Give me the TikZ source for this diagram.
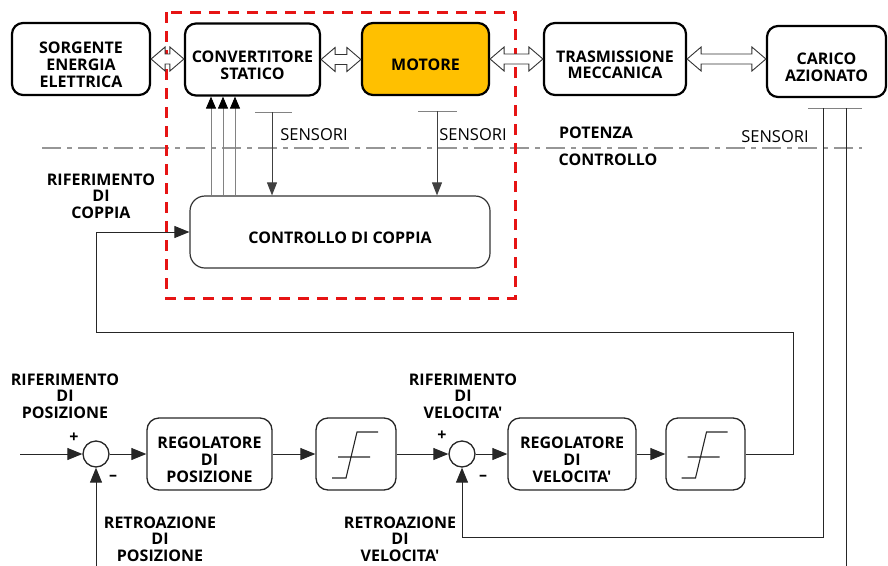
\documentclass[tikz,border=0pt]{standalone}
\usepackage{fontspec}
\newfontfamily\lblfont{Open Sans}
\usetikzlibrary{arrows.meta}
\definecolor{motorfill}{RGB}{255,192,0}
\definecolor{redbox}{RGB}{230,20,20}
\definecolor{dashgray}{RGB}{150,150,150}
\definecolor{linegray}{RGB}{130,130,130}
\tikzset{
  lbl/.style={font=\lblfont\bfseries\fontsize{16}{16.7}\selectfont, align=center, inner sep=0pt},
  lblreg/.style={font=\lblfont\fontsize{16.5}{16.7}\selectfont, align=center, inner sep=0pt},
  one/.style={text height=23pt},
  two/.style={text height=39.7pt},
  three/.style={text height=56.4pt},
  topbox/.style={lbl, draw=black, line width=2.2pt, rounded corners=11pt, minimum height=72pt},
  ctrlbox/.style={lbl, draw=black!80, line width=1.2pt, rounded corners=15pt},
  botbox/.style={lbl, draw=black!85, line width=1.3pt, rounded corners=12pt, minimum height=72pt},
  sumnode/.style={circle, draw=black!85, line width=1.3pt, minimum size=26pt, inner sep=0pt},
  sig/.style={line width=1pt, draw=black!85, -{Triangle[length=15pt,width=12pt]}},
  sigplain/.style={line width=1pt, draw=black!85},
  upar/.style={line width=0.9pt, draw=linegray, -{Triangle[length=12pt,width=10pt,fill=black,color=black]}},
  sensline/.style={line width=0.9pt, draw=black!75},
  sensbar/.style={line width=1pt, draw=linegray},
  hollow/.style={line width=0.9pt, draw=black!80, fill=white},
}
\newcommand\hollowarrow[2]{%
  \draw[hollow] let \p1=(#1.east), \p2=(#2.west) in
    (\x1,\y1) -- (\x1+14pt,\y1+12pt) -- (\x1+14pt,\y1+5pt) -- (\x2-14pt,\y1+5pt) -- (\x2-14pt,\y1+12pt) -- (\x2,\y1)
    -- (\x2-14pt,\y1-12pt) -- (\x2-14pt,\y1-5pt) -- (\x1+14pt,\y1-5pt) -- (\x1+14pt,\y1-12pt) -- cycle;}
\newcommand\satsym[1]{%
  \draw[line width=1.1pt, black!85, shift={(#1.center)}]
    (-24,24) -- (-10,24) -- (1,-22) -- (22,-22) (-18,3) -- (14,3);}
\usetikzlibrary{calc}
\begin{document}
\begin{tikzpicture}[x=1pt,y=-1pt]
\useasboundingbox (0,0) rectangle (888,565);

% top row
\node[topbox, three, minimum width=138pt] (src) at (81,59) {SORGENTE\\ENERGIA\\ELETTRICA};
\node[topbox, two, minimum width=135pt] (conv) at (252.5,59.5) {CONVERTITORE\\STATICO};
\node[topbox, one, minimum width=127pt, fill=motorfill] (mot) at (425.5,59) {MOTORE};
\node[topbox, two, minimum width=142pt] (tra) at (615,59) {TRASMISSIONE\\MECCANICA};
\node[topbox, two, minimum width=119pt, minimum height=71pt] (car) at (826.5,61.5) {CARICO\\AZIONATO};

% dash-dot separation
\draw[dashgray, line width=2.4pt, dash pattern=on 19pt off 6pt on 5pt off 6pt] (42,148) -- (862,148);

% red dashed frame
\draw[redbox, line width=3pt, dash pattern=on 11pt off 8pt] (166,12) rectangle (515,298);

\hollowarrow{src}{conv}
\hollowarrow{conv}{mot}
\hollowarrow{mot}{tra}
\hollowarrow{tra}{car}

% control box
\node[ctrlbox, one, minimum width=300pt, minimum height=72pt] (ctrl) at (340,232) {CONTROLLO DI COPPIA};

% up arrows into converter
\coordinate (u1) at (211,0);
\coordinate (u2) at (223,0);
\coordinate (u3) at (235,0);
\draw[upar] (ctrl.north -| u1) -- (conv.south -| u1);
\draw[upar] (ctrl.north -| u2) -- (conv.south -| u2);
\draw[upar] (ctrl.north -| u3) -- (conv.south -| u3);

% sensors
\coordinate (s1a) at (255,112); \coordinate (s1b) at (292,112); \coordinate (s1) at (272,112);
\coordinate (s2a) at (418,111); \coordinate (s2b) at (457,111); \coordinate (s2) at (437,111);
\coordinate (s3a) at (808,108); \coordinate (s3b) at (862,108);
\coordinate (s3v) at (823,108); \coordinate (s3p) at (846,108);
\draw[sensbar] (s1a) -- (s1b);
\draw[sensbar] (s2a) -- (s2b);
\draw[sensbar] (s3a) -- (s3b);
\draw[sensline, -{Triangle[length=13pt,width=10pt]}] (s1) -- (s1 |- ctrl.north);
\draw[sensline, -{Triangle[length=13pt,width=10pt]}] (s2) -- (s2 |- ctrl.north);

\node[lblreg] (sl1) at (314,135) {SENSORI};
\node[lblreg] (sl2) at (473,135) {SENSORI};
\node[lblreg] (sl3) at (775,137) {SENSORI};
\node[lbl] (pot) at (596,133) {POTENZA};
\node[lbl] (con) at (608,160) {CONTROLLO};

\node[lbl] (rifc) at (101,196) {RIFERIMENTO\\DI\\COPPIA};

% bottom row
\coordinate (in1) at (20,454);
\node[sumnode] (sum1) at (96,454) {};
\node[botbox, three, minimum width=125pt] (rp) at (209.5,454) {REGOLATORE\\DI\\POSIZIONE};
\node[botbox, minimum width=80pt] (sat1) at (356,454) {};
\node[sumnode] (sum2) at (462,454) {};
\node[botbox, three, minimum width=128pt] (rv) at (572,454) {REGOLATORE\\DI\\VELOCITA'};
\node[botbox, minimum width=79pt] (sat2) at (705.5,454) {};
\satsym{sat1}
\satsym{sat2}

\draw[sig] (in1) -- (sum1.west);
\draw[sig] (sum1.east) -- (rp.west);
\draw[sig] (rp.east) -- (sat1.west);
\draw[sig] (sat1.east) -- (sum2.west);
\draw[sig] (sum2.east) -- (rv.west);
\draw[sig] (rv.east) -- (sat2.west);

% torque reference loop
\coordinate (lr) at (793,332);
\coordinate (ll) at (96,332);
\draw[sig] (sat2.east) -- (sat2.east -| lr) -- (lr) -- (ll) -- (ll |- ctrl.west) -- (ctrl.west);

% feedbacks
\coordinate (fbp) at (96,566);
\draw[sig] (fbp) -- (sum1.south);
\coordinate (vb) at (823,537);
\draw[sig] (s3v) -- (vb) -- (vb -| sum2) -- (sum2.south);
\coordinate (pb) at (846,566);
\draw[sigplain] (s3p) -- (pb);

% labels
\node[lbl] (rifp) at (65,396) {RIFERIMENTO\\DI\\POSIZIONE};
\node[lbl] (rifv) at (463,396) {RIFERIMENTO\\DI\\VELOCITA'};
\node[lbl] (retp) at (160,539) {RETROAZIONE\\DI\\POSIZIONE};
\node[lbl] (retv) at (400,539) {RETROAZIONE\\DI\\VELOCITA'};
\node[lbl] (p1) at (74,438) {+};
\node[lbl] (m1) at (113,478) {–};
\node[lbl] (p2) at (442,436) {+};
\node[lbl] (m2) at (483,478) {–};
\end{tikzpicture}
\end{document}
